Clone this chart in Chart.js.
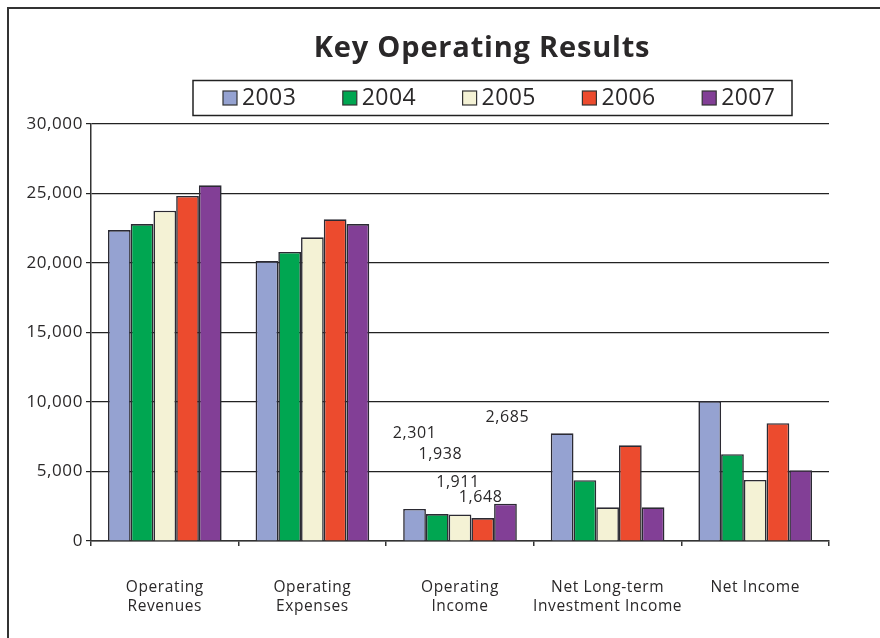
<!DOCTYPE html>
<html>
<head>
<meta charset="utf-8">
<title>Key Operating Results</title>
<script src="https://cdn.jsdelivr.net/npm/chart.js@4.4.1/dist/chart.umd.min.js"></script>
<style>
  html, body { margin: 0; padding: 0; background: #fff; }
  #wrap { position: relative; width: 880px; height: 638px; overflow: hidden; }
  #frame { position: absolute; left: 7px; top: 7px; width: 900px; height: 700px;
           border-left: 2px solid #333; border-top: 2px solid #333; }
  canvas { position: absolute; left: 0; top: 0; }
</style>
</head>
<body>
<div id="wrap">
  <div id="frame"></div>
  <canvas id="resultsChart" width="880" height="638"></canvas>
</div>
<script>
const categories = [
  ['Operating', 'Revenues'],
  ['Operating', 'Expenses'],
  ['Operating', 'Income'],
  ['Net Long-term', 'Investment Income'],
  'Net Income'
];
const years = ['2003', '2004', '2005', '2006', '2007'];
const values2003 = [22370, 20140, 2301, 7750, 10070];
const values2004 = [22800, 20790, 1938, 4370, 6240];
const values2005 = [23760, 21850, 1911, 2420, 4390];
const values2006 = [24820, 23140, 1648, 6880, 8470];
const values2007 = [25590, 22800, 2685, 2420, 5090];
const yTicks = [0, 5000, 10000, 15000, 20000, 25000, 30000];

const seriesValues = [values2003, values2004, values2005, values2006, values2007];
const seriesColors = ['#95a2d1', '#00a651', '#f4f2d5', '#ec4b2e', '#823f96'];
const FONT = '"Open Sans", "DejaVu Sans", sans-serif';
const TEXT = '#2a2829';

// only the Operating Income group carries value labels, nudged around by hand
const labelCategory = 2;
const labelShift = [[0, -76], [3, -60], [-2, -32], [-2, -21], [2, -86]];

const fmt = v => v.toLocaleString('en-US');

const decorations = {
  id: 'decorations',
  beforeDraw(chart) {
    // the typeface used here runs a little loose
    chart.ctx.letterSpacing = '0.6px';
  },
  afterDatasetsDraw(chart) {
    const ctx = chart.ctx;
    ctx.save();
    ctx.fillStyle = TEXT;
    ctx.font = '16px ' + FONT;
    ctx.textAlign = 'center';
    ctx.textBaseline = 'middle';
    chart.data.datasets.forEach((ds, i) => {
      const bar = chart.getDatasetMeta(i).data[labelCategory];
      const [dx, dy] = labelShift[i];
      ctx.fillText(fmt(ds.data[labelCategory]), bar.x + dx, bar.y + dy);
    });
    ctx.restore();
  },
  afterDraw(chart) {
    const ctx = chart.ctx;
    ctx.save();

    // title
    ctx.fillStyle = TEXT;
    ctx.letterSpacing = '0.8px';
    ctx.font = 'bold 29px ' + FONT;
    ctx.textAlign = 'center';
    ctx.textBaseline = 'alphabetic';
    ctx.fillText('Key Operating Results', 482, 57);

    // legend frame
    ctx.strokeStyle = '#222';
    ctx.lineWidth = 1.5;
    ctx.strokeRect(193, 80.5, 599, 35);

    // legend entries
    ctx.letterSpacing = '0.4px';
    ctx.font = '23px ' + FONT;
    ctx.textAlign = 'left';
    ctx.textBaseline = 'middle';
    chart.data.datasets.forEach((ds, i) => {
      const x = 223 + i * 119.8;
      ctx.fillStyle = ds.backgroundColor;
      ctx.fillRect(x, 91, 14, 14);
      ctx.strokeStyle = '#333';
      ctx.lineWidth = 1.2;
      ctx.strokeRect(x, 91, 14, 14);
      ctx.fillStyle = TEXT;
      ctx.fillText(ds.label, x + 19, 98);
    });
    ctx.restore();
  }
};

new Chart(document.getElementById('resultsChart'), {
  type: 'bar',
  data: {
    labels: categories,
    datasets: years.map((y, i) => ({
      label: y,
      data: seriesValues[i],
      backgroundColor: seriesColors[i],
      borderColor: '#2b2a33',
      borderWidth: 1.6,
      borderSkipped: 'start',
      barPercentage: 1,
      categoryPercentage: 0.77
    }))
  },
  options: {
    responsive: false,
    animation: false,
    layout: { padding: { top: 124, right: 51, bottom: 0, left: 0 } },
    plugins: {
      legend: { display: false },
      title: { display: false },
      tooltip: { enabled: false }
    },
    scales: {
      x: {
        grid: { offset: true, drawOnChartArea: false, drawTicks: true, tickLength: 5, color: '#333', lineWidth: 1.5 },
        border: { color: '#333', width: 1.5 },
        ticks: { padding: 32, color: TEXT, font: { family: FONT, size: 15.5, lineHeight: 1.23 }, maxRotation: 0, autoSkip: false },
        afterFit(scale) { scale.height = 97; }
      },
      y: {
        min: 0,
        max: 30000,
        afterBuildTicks(scale) { scale.ticks = yTicks.map(v => ({ value: v })); },
        ticks: { padding: 3, color: TEXT, font: { family: FONT, size: 17 }, callback: v => fmt(v) },
        grid: { color: '#222', lineWidth: 1.2, tickLength: 5 },
        border: { color: '#333', width: 1.5 },
        afterFit(scale) { scale.width = 91; }
      }
    }
  },
  plugins: [decorations]
});
</script>
</body>
</html>
